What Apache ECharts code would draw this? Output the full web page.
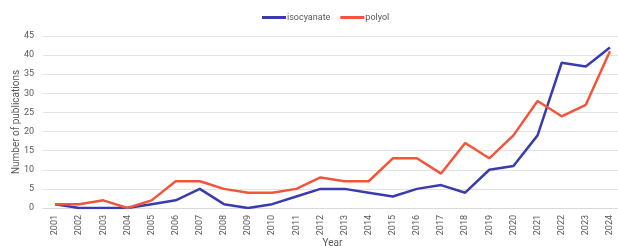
<!DOCTYPE html>
<html>
<head>
<meta charset="utf-8">
<script src="https://cdn.jsdelivr.net/npm/echarts@6/dist/echarts.min.js"></script>
<style>
  html, body { margin: 0; padding: 0; background: #fff; }
  #chart { width: 618px; height: 246px; }
</style>
</head>
<body>
<div id="chart"></div>
<script>
var years = ['2001', '2002', '2003', '2004', '2005', '2006', '2007', '2008', '2009', '2010', '2011', '2012',
    '2013', '2014', '2015', '2016', '2017', '2018', '2019', '2020', '2021', '2022', '2023', '2024'];
var isocyanate = [1, 0, 0, 0, 1, 2, 5, 1, 0, 1, 3, 5, 5, 4, 3, 5, 6, 4, 10, 11, 19, 38, 37, 42];
var polyol = [1, 1, 2, 0, 2, 7, 7, 5, 4, 4, 5, 8, 7, 7, 13, 13, 9, 17, 13, 19, 28, 24, 27, 41];

var dom = document.getElementById('chart');
var myChart = echarts.init(dom, null, { renderer: 'canvas' });

var labelFont = { color: '#595959', fontSize: 9, fontFamily: 'Roboto' };

var option = {
    animation: false,
    legend: {
        top: 8,
        left: 257,
        itemWidth: 24,
        itemHeight: 3,
        itemGap: 10,
        icon: 'rect',
        textStyle: { color: '#595959', fontSize: 9, fontFamily: 'Roboto', padding: [0, 0, 0, -4] },
        data: ['isocyanate', 'polyol']
    },
    grid: {
        left: 43,
        top: 36,
        width: 579,
        bottom: 38,
        outerBoundsMode: 'none',
        containLabel: false
    },
    xAxis: {
        type: 'category',
        data: years,
        boundaryGap: true,
        name: 'Year',
        nameLocation: 'middle',
        nameGap: 30,
        nameMoveOverlap: false,
        nameTextStyle: { color: '#595959', fontSize: 10, fontFamily: 'Roboto' },
        axisLine: { lineStyle: { color: '#d9d9d9' } },
        axisTick: { show: false },
        axisLabel: Object.assign({ rotate: 90, margin: 7, interval: 0 }, labelFont)
    },
    yAxis: {
        type: 'value',
        min: 0,
        max: 45,
        interval: 5,
        name: 'Number of publications',
        nameLocation: 'middle',
        nameGap: 22,
        nameMoveOverlap: false,
        nameTextStyle: { color: '#595959', fontSize: 10, fontFamily: 'Roboto' },
        axisLine: { show: false },
        axisTick: { show: false },
        axisLabel: Object.assign({ margin: 9 }, labelFont),
        splitLine: { lineStyle: { color: '#e3e3e3', width: 1 } }
    },
    series: [
        {
            name: 'isocyanate',
            type: 'line',
            data: isocyanate,
            symbol: 'none',
            color: '#3a3cae',
            lineStyle: { width: 2.5, color: '#3a3cae' }
        },
        {
            name: 'polyol',
            type: 'line',
            data: polyol,
            symbol: 'none',
            color: '#f2553a',
            lineStyle: { width: 2.5, color: '#f2553a' }
        }
    ]
};

myChart.setOption(option);
window.addEventListener('resize', myChart.resize);
</script>
</body>
</html>
